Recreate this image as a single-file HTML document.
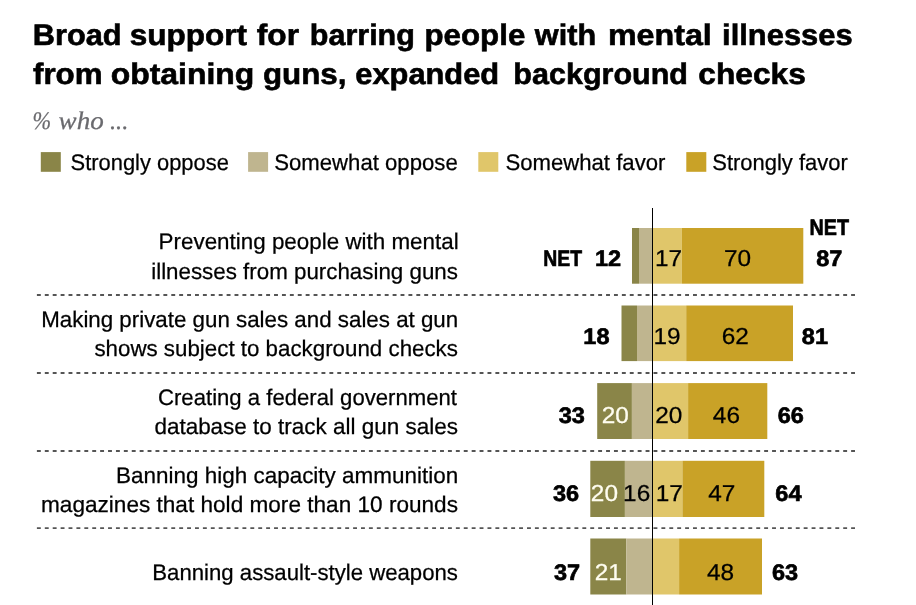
<!DOCTYPE html>
<html lang="en"><head><meta charset="utf-8"><title>Broad support for barring people with mental illnesses from obtaining guns</title>
<style>html,body{margin:0;padding:0;background:#fff}svg{display:block;text-rendering:geometricPrecision}</style></head>
<body><svg width="916" height="605" viewBox="0 0 916 605">
<rect width="916" height="605" fill="#fff"/>
<rect x="40.8" y="152.1" width="20.0" height="19.7" fill="#8a8548"/>
<rect x="248.1" y="152.1" width="20.0" height="19.7" fill="#bfb58f"/>
<rect x="478.3" y="152.1" width="20.0" height="19.7" fill="#e0c66a"/>
<rect x="686.3" y="152.1" width="20.0" height="19.7" fill="#c9a227"/>
<rect x="632.0" y="228.0" width="7.0" height="55.7" fill="#8a8548"/>
<rect x="639.0" y="228.0" width="13.5" height="55.7" fill="#bfb58f"/>
<rect x="652.5" y="228.0" width="29.4" height="55.7" fill="#e0c66a"/>
<rect x="681.9" y="228.0" width="121.4" height="55.7" fill="#c9a227"/>
<rect x="621.5" y="305.5" width="15.5" height="55.6" fill="#8a8548"/>
<rect x="637.0" y="305.5" width="15.5" height="55.6" fill="#bfb58f"/>
<rect x="652.5" y="305.5" width="33.7" height="55.6" fill="#e0c66a"/>
<rect x="686.2" y="305.5" width="106.8" height="55.6" fill="#c9a227"/>
<rect x="597.2" y="383.1" width="34.7" height="55.9" fill="#8a8548"/>
<rect x="631.9" y="383.1" width="20.6" height="55.9" fill="#bfb58f"/>
<rect x="652.5" y="383.1" width="35.6" height="55.9" fill="#e0c66a"/>
<rect x="688.1" y="383.1" width="79.2" height="55.9" fill="#c9a227"/>
<rect x="590.3" y="460.8" width="34.6" height="56.2" fill="#8a8548"/>
<rect x="624.9" y="460.8" width="27.6" height="56.2" fill="#bfb58f"/>
<rect x="652.5" y="460.8" width="29.9" height="56.2" fill="#e0c66a"/>
<rect x="682.4" y="460.8" width="81.9" height="56.2" fill="#c9a227"/>
<rect x="590.3" y="538.5" width="36.0" height="56.0" fill="#8a8548"/>
<rect x="626.3" y="538.5" width="26.2" height="56.0" fill="#bfb58f"/>
<rect x="652.5" y="538.5" width="26.6" height="56.0" fill="#e0c66a"/>
<rect x="679.1" y="538.5" width="82.9" height="56.0" fill="#c9a227"/>
<line x1="36.9" y1="295.0" x2="855" y2="295.0" stroke="#555" stroke-width="1.8" stroke-dasharray="3.9 4.005"/>
<line x1="36.9" y1="373.0" x2="855" y2="373.0" stroke="#555" stroke-width="1.8" stroke-dasharray="3.9 4.005"/>
<line x1="36.9" y1="451.0" x2="855" y2="451.0" stroke="#555" stroke-width="1.8" stroke-dasharray="3.9 4.005"/>
<line x1="36.9" y1="528.2" x2="855" y2="528.2" stroke="#555" stroke-width="1.8" stroke-dasharray="3.9 4.005"/>
<line x1="652.5" y1="208" x2="652.5" y2="605" stroke="#000" stroke-width="1"/>
<text y="45.3" font-family='"Liberation Sans", sans-serif' font-size="29.6" font-weight="bold" font-style="normal" fill="#000" stroke="#000" stroke-width="0.6"><tspan x="32.86" textLength="88.76" lengthAdjust="spacingAndGlyphs">Broad</tspan> <tspan x="129.73" textLength="117.31" lengthAdjust="spacingAndGlyphs">support</tspan> <tspan x="256.80" textLength="42.18" lengthAdjust="spacingAndGlyphs">for</tspan> <tspan x="309.77" textLength="105.14" lengthAdjust="spacingAndGlyphs">barring</tspan> <tspan x="424.54" textLength="100.74" lengthAdjust="spacingAndGlyphs">people</tspan> <tspan x="534.84" textLength="61.28" lengthAdjust="spacingAndGlyphs">with</tspan> <tspan x="607.91" textLength="103.92" lengthAdjust="spacingAndGlyphs">mental</tspan> <tspan x="722.11" textLength="130.57" lengthAdjust="spacingAndGlyphs">illnesses</tspan></text>
<text y="84.1" font-family='"Liberation Sans", sans-serif' font-size="29.6" font-weight="bold" font-style="normal" fill="#000" stroke="#000" stroke-width="0.6"><tspan x="33.00" textLength="69.59" lengthAdjust="spacingAndGlyphs">from</tspan> <tspan x="110.72" textLength="143.64" lengthAdjust="spacingAndGlyphs">obtaining</tspan> <tspan x="262.94" textLength="83.55" lengthAdjust="spacingAndGlyphs">guns,</tspan> <tspan x="355.26" textLength="143.96" lengthAdjust="spacingAndGlyphs">expanded</tspan> <tspan x="513.37" textLength="174.64" lengthAdjust="spacingAndGlyphs">background</tspan> <tspan x="698.33" textLength="107.56" lengthAdjust="spacingAndGlyphs">checks</tspan></text>
<text y="129.3" font-family='"Liberation Serif", serif' font-size="25.3" font-weight="normal" font-style="italic" fill="#6a6a6e" stroke="#6a6a6e" stroke-width="0.25"><tspan x="32.52" textLength="18.63" lengthAdjust="spacingAndGlyphs">%</tspan> <tspan x="58.60" textLength="45.19" lengthAdjust="spacingAndGlyphs">who</tspan> <tspan x="109.93" textLength="18.46" lengthAdjust="spacingAndGlyphs">...</tspan></text>
<text x="70.53" y="170.3" font-family='"Liberation Sans", sans-serif' font-size="22.5" font-weight="normal" font-style="normal" fill="#000" stroke="#000" stroke-width="0.25" textLength="158.37" lengthAdjust="spacingAndGlyphs">Strongly oppose</text>
<text x="274.22" y="170.3" font-family='"Liberation Sans", sans-serif' font-size="22.5" font-weight="normal" font-style="normal" fill="#000" stroke="#000" stroke-width="0.25" textLength="183.49" lengthAdjust="spacingAndGlyphs">Somewhat oppose</text>
<text x="505.42" y="170.3" font-family='"Liberation Sans", sans-serif' font-size="22.5" font-weight="normal" font-style="normal" fill="#000" stroke="#000" stroke-width="0.25" textLength="159.98" lengthAdjust="spacingAndGlyphs">Somewhat favor</text>
<text x="712.22" y="170.3" font-family='"Liberation Sans", sans-serif' font-size="22.5" font-weight="normal" font-style="normal" fill="#000" stroke="#000" stroke-width="0.25" textLength="135.58" lengthAdjust="spacingAndGlyphs">Strongly favor</text>
<text x="158.60" y="249.4" font-family='"Liberation Sans", sans-serif' font-size="22.5" font-weight="normal" font-style="normal" fill="#000" stroke="#000" stroke-width="0.25" textLength="300.09" lengthAdjust="spacingAndGlyphs">Preventing people with mental</text>
<text x="151.21" y="278.6" font-family='"Liberation Sans", sans-serif' font-size="22.5" font-weight="normal" font-style="normal" fill="#000" stroke="#000" stroke-width="0.25" textLength="306.74" lengthAdjust="spacingAndGlyphs">illnesses from purchasing guns</text>
<text x="41.21" y="326.8" font-family='"Liberation Sans", sans-serif' font-size="22.5" font-weight="normal" font-style="normal" fill="#000" stroke="#000" stroke-width="0.25" textLength="417.00" lengthAdjust="spacingAndGlyphs">Making private gun sales and sales at gun</text>
<text x="94.40" y="355.7" font-family='"Liberation Sans", sans-serif' font-size="22.5" font-weight="normal" font-style="normal" fill="#000" stroke="#000" stroke-width="0.25" textLength="363.55" lengthAdjust="spacingAndGlyphs">shows subject to background checks</text>
<text x="158.02" y="405.2" font-family='"Liberation Sans", sans-serif' font-size="22.5" font-weight="normal" font-style="normal" fill="#000" stroke="#000" stroke-width="0.25" textLength="298.95" lengthAdjust="spacingAndGlyphs">Creating a federal government</text>
<text x="154.40" y="434.1" font-family='"Liberation Sans", sans-serif' font-size="22.5" font-weight="normal" font-style="normal" fill="#000" stroke="#000" stroke-width="0.25" textLength="303.55" lengthAdjust="spacingAndGlyphs">database to track all gun sales</text>
<text x="116.00" y="483.2" font-family='"Liberation Sans", sans-serif' font-size="22.5" font-weight="normal" font-style="normal" fill="#000" stroke="#000" stroke-width="0.25" textLength="342.21" lengthAdjust="spacingAndGlyphs">Banning high capacity ammunition</text>
<text x="41.00" y="511.9" font-family='"Liberation Sans", sans-serif' font-size="22.5" font-weight="normal" font-style="normal" fill="#000" stroke="#000" stroke-width="0.25" textLength="416.96" lengthAdjust="spacingAndGlyphs">magazines that hold more than 10 rounds</text>
<text x="152.31" y="579.8" font-family='"Liberation Sans", sans-serif' font-size="22.5" font-weight="normal" font-style="normal" fill="#000" stroke="#000" stroke-width="0.25" textLength="305.63" lengthAdjust="spacingAndGlyphs">Banning assault-style weapons</text>
<text x="543.33" y="265.9" font-family='"Liberation Sans", sans-serif' font-size="22.4" font-weight="bold" font-style="normal" fill="#000" stroke="#000" stroke-width="0.65" textLength="38.79" lengthAdjust="spacingAndGlyphs">NET</text>
<text x="595.04" y="265.9" font-family='"Liberation Sans", sans-serif' font-size="22.4" font-weight="bold" font-style="normal" fill="#000" stroke="#000" stroke-width="0.65" textLength="26.15" lengthAdjust="spacingAndGlyphs">12</text>
<text x="654.98" y="265.9" font-family='"Liberation Sans", sans-serif' font-size="23" font-weight="normal" font-style="normal" fill="#000" stroke="#000" stroke-width="0.25" textLength="27.12" lengthAdjust="spacingAndGlyphs">17</text>
<text x="724.03" y="265.9" font-family='"Liberation Sans", sans-serif' font-size="23" font-weight="normal" font-style="normal" fill="#000" stroke="#000" stroke-width="0.25" textLength="27.12" lengthAdjust="spacingAndGlyphs">70</text>
<text x="816.31" y="265.9" font-family='"Liberation Sans", sans-serif' font-size="22.4" font-weight="bold" font-style="normal" fill="#000" stroke="#000" stroke-width="0.65" textLength="26.15" lengthAdjust="spacingAndGlyphs">87</text>
<text x="583.39" y="344.3" font-family='"Liberation Sans", sans-serif' font-size="22.4" font-weight="bold" font-style="normal" fill="#000" stroke="#000" stroke-width="0.65" textLength="26.15" lengthAdjust="spacingAndGlyphs">18</text>
<text x="653.53" y="344.3" font-family='"Liberation Sans", sans-serif' font-size="23" font-weight="normal" font-style="normal" fill="#000" stroke="#000" stroke-width="0.25" textLength="27.12" lengthAdjust="spacingAndGlyphs">19</text>
<text x="721.73" y="344.3" font-family='"Liberation Sans", sans-serif' font-size="23" font-weight="normal" font-style="normal" fill="#000" stroke="#000" stroke-width="0.25" textLength="27.12" lengthAdjust="spacingAndGlyphs">62</text>
<text x="801.86" y="344.3" font-family='"Liberation Sans", sans-serif' font-size="22.4" font-weight="bold" font-style="normal" fill="#000" stroke="#000" stroke-width="0.65" textLength="26.15" lengthAdjust="spacingAndGlyphs">81</text>
<text x="558.81" y="422.8" font-family='"Liberation Sans", sans-serif' font-size="22.4" font-weight="bold" font-style="normal" fill="#000" stroke="#000" stroke-width="0.65" textLength="26.15" lengthAdjust="spacingAndGlyphs">33</text>
<text x="601.68" y="422.8" font-family='"Liberation Sans", sans-serif' font-size="23" font-weight="normal" font-style="normal" fill="#fffdf0" stroke="#fffdf0" stroke-width="0.25" textLength="27.12" lengthAdjust="spacingAndGlyphs">20</text>
<text x="655.23" y="422.8" font-family='"Liberation Sans", sans-serif' font-size="23" font-weight="normal" font-style="normal" fill="#000" stroke="#000" stroke-width="0.25" textLength="27.12" lengthAdjust="spacingAndGlyphs">20</text>
<text x="712.86" y="422.8" font-family='"Liberation Sans", sans-serif' font-size="23" font-weight="normal" font-style="normal" fill="#000" stroke="#000" stroke-width="0.25" textLength="27.12" lengthAdjust="spacingAndGlyphs">46</text>
<text x="777.81" y="422.8" font-family='"Liberation Sans", sans-serif' font-size="22.4" font-weight="bold" font-style="normal" fill="#000" stroke="#000" stroke-width="0.65" textLength="26.15" lengthAdjust="spacingAndGlyphs">66</text>
<text x="552.96" y="500.8" font-family='"Liberation Sans", sans-serif' font-size="22.4" font-weight="bold" font-style="normal" fill="#000" stroke="#000" stroke-width="0.65" textLength="26.15" lengthAdjust="spacingAndGlyphs">36</text>
<text x="590.83" y="500.8" font-family='"Liberation Sans", sans-serif' font-size="23" font-weight="normal" font-style="normal" fill="#fffdf0" stroke="#fffdf0" stroke-width="0.25" textLength="27.12" lengthAdjust="spacingAndGlyphs">20</text>
<text x="623.08" y="500.8" font-family='"Liberation Sans", sans-serif' font-size="23" font-weight="normal" font-style="normal" fill="#000" stroke="#000" stroke-width="0.25" textLength="27.12" lengthAdjust="spacingAndGlyphs">16</text>
<text x="655.78" y="500.8" font-family='"Liberation Sans", sans-serif' font-size="23" font-weight="normal" font-style="normal" fill="#000" stroke="#000" stroke-width="0.25" textLength="27.12" lengthAdjust="spacingAndGlyphs">17</text>
<text x="708.31" y="500.8" font-family='"Liberation Sans", sans-serif' font-size="23" font-weight="normal" font-style="normal" fill="#000" stroke="#000" stroke-width="0.25" textLength="27.12" lengthAdjust="spacingAndGlyphs">47</text>
<text x="775.34" y="500.8" font-family='"Liberation Sans", sans-serif' font-size="22.4" font-weight="bold" font-style="normal" fill="#000" stroke="#000" stroke-width="0.65" textLength="26.15" lengthAdjust="spacingAndGlyphs">64</text>
<text x="554.06" y="579.5" font-family='"Liberation Sans", sans-serif' font-size="22.4" font-weight="bold" font-style="normal" fill="#000" stroke="#000" stroke-width="0.65" textLength="26.15" lengthAdjust="spacingAndGlyphs">37</text>
<text x="594.78" y="579.5" font-family='"Liberation Sans", sans-serif' font-size="23" font-weight="normal" font-style="normal" fill="#fffdf0" stroke="#fffdf0" stroke-width="0.25" textLength="27.12" lengthAdjust="spacingAndGlyphs">21</text>
<text x="706.91" y="579.5" font-family='"Liberation Sans", sans-serif' font-size="23" font-weight="normal" font-style="normal" fill="#000" stroke="#000" stroke-width="0.25" textLength="27.12" lengthAdjust="spacingAndGlyphs">48</text>
<text x="772.01" y="579.5" font-family='"Liberation Sans", sans-serif' font-size="22.4" font-weight="bold" font-style="normal" fill="#000" stroke="#000" stroke-width="0.65" textLength="26.15" lengthAdjust="spacingAndGlyphs">63</text>
<text x="809.62" y="234.6" font-family='"Liberation Sans", sans-serif' font-size="22.4" font-weight="bold" font-style="normal" fill="#000" stroke="#000" stroke-width="0.65" textLength="39.50" lengthAdjust="spacingAndGlyphs">NET</text>
</svg></body></html>
